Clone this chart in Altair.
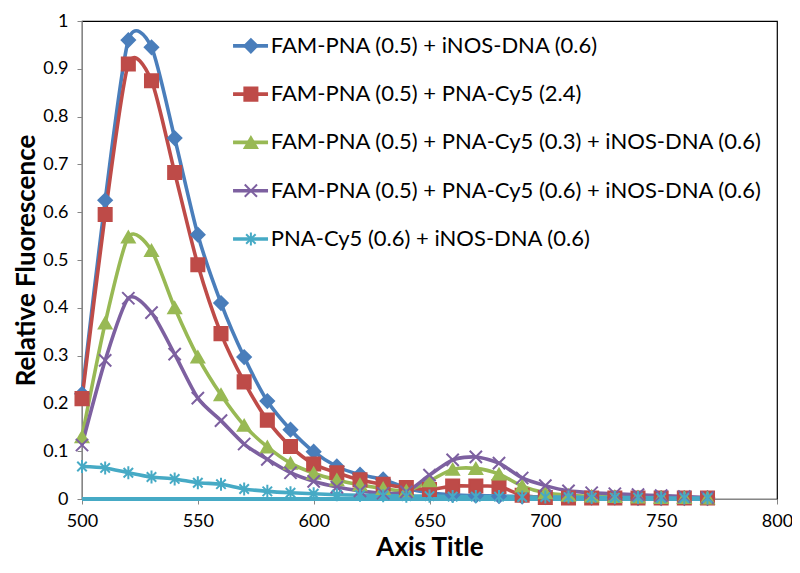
import altair as alt
import pandas as pd

# ---------------- data ----------------
wavelength = [500, 510, 520, 530, 540, 550, 560, 570, 580, 590, 600, 610, 620, 630,
              640, 650, 660, 670, 680, 690, 700, 710, 720, 730, 740, 750, 760, 770]

SERIES = [
    "FAM-PNA (0.5) + iNOS-DNA (0.6)",
    "FAM-PNA (0.5) + PNA-Cy5 (2.4)",
    "FAM-PNA (0.5) + PNA-Cy5 (0.3) + iNOS-DNA (0.6)",
    "FAM-PNA (0.5) + PNA-Cy5 (0.6) + iNOS-DNA (0.6)",
    "PNA-Cy5 (0.6) + iNOS-DNA (0.6)",
]

fam_inos = [0.220, 0.625, 0.960, 0.945, 0.755, 0.553, 0.410, 0.297, 0.205, 0.145,
            0.099, 0.068, 0.051, 0.041, 0.023, 0.013, 0.009, 0.007, 0.006, 0.005,
            0.004, 0.004, 0.003, 0.003, 0.002, 0.002, 0.002, 0.002]
fam_cy5_24 = [0.210, 0.595, 0.910, 0.875, 0.683, 0.490, 0.346, 0.245, 0.165, 0.110,
              0.073, 0.055, 0.040, 0.031, 0.024, 0.020, 0.027, 0.027, 0.026, 0.008,
              0.003, 0.002, 0.002, 0.002, 0.002, 0.002, 0.002, 0.002]
fam_cy5_03_inos = [0.130, 0.368, 0.548, 0.520, 0.400, 0.297, 0.218, 0.154, 0.109, 0.075,
                   0.054, 0.040, 0.030, 0.022, 0.017, 0.038, 0.062, 0.064, 0.052, 0.027,
                   0.013, 0.008, 0.006, 0.005, 0.004, 0.003, 0.003, 0.002]
fam_cy5_06_inos = [0.113, 0.290, 0.420, 0.390, 0.303, 0.211, 0.164, 0.115, 0.083, 0.055,
                   0.037, 0.025, 0.017, 0.012, 0.015, 0.050, 0.082, 0.088, 0.075, 0.044,
                   0.028, 0.017, 0.013, 0.011, 0.009, 0.007, 0.005, 0.003]
cy5_inos = [0.068, 0.065, 0.055, 0.046, 0.042, 0.034, 0.031, 0.021, 0.016, 0.013,
            0.011, 0.009, 0.008, 0.007, 0.006, 0.006, 0.005, 0.005, 0.005, 0.004,
            0.004, 0.004, 0.003, 0.003, 0.003, 0.002, 0.002, 0.002]
baseline = [0, 0, 0, 0, 0, 0, 0, 0, 0, 0, 0, 0, 0, 0,
            0, 0, 0, 0, 0, 0, 0, 0, 0, 0, 0, 0, 0, 0]

X_TICKS = [500, 550, 600, 650, 700, 750, 800]
Y_TICKS = [0, 0.1, 0.2, 0.3, 0.4, 0.5, 0.6, 0.7, 0.8, 0.9, 1]

COLORS = ["#4A7EBB", "#BE4B48", "#98B954", "#7D60A0", "#46AAC5"]
SHAPES = [
    "diamond",
    "square",
    "triangle-up",
    "M-1,-1L1,1M-1,1L1,-1",
    "M-0.8,-0.8L0.8,0.8M-0.8,0.8L0.8,-0.8M0,-1.1L0,1.1",
]
SIZES = [180, 140, 170, 150, 170]

# legend layout (data units)
LEG_Y0, LEG_DY = 0.948, 0.101
LEG_X0, LEG_X1, LEG_XM, LEG_XT = 565.2, 580.3, 572.9, 581.5

FONT = "Lato"

rows = []
for name, vals in zip(SERIES, [fam_inos, fam_cy5_24, fam_cy5_03_inos, fam_cy5_06_inos, cy5_inos]):
    for w, v in zip(wavelength, vals):
        rows.append({"wavelength": w, "value": v, "series": name})
df = pd.DataFrame(rows)
base_df = pd.DataFrame({"wavelength": wavelength, "value": baseline})
leg_df = pd.DataFrame({"series": SERIES, "row": list(range(len(SERIES)))})

xs = alt.Scale(domain=[500, 800], nice=False, zero=False)
ys = alt.Scale(domain=[0, 1], nice=False, zero=False)
cs = alt.Scale(domain=SERIES, range=COLORS)
ss = alt.Scale(domain=SERIES, range=SHAPES)
zs = alt.Scale(domain=SERIES, range=SIZES)

xa = alt.Axis(
    values=X_TICKS, title="Axis Title", grid=False, domainColor="#868686",
    tickColor="#868686", tickSize=5, labelPadding=8, labelFontSize=18,
    labelFont=FONT, labelColor="#000000", titleFont=FONT, titleFontSize=26,
    titleFontWeight="bold", titleColor="#000000", titlePadding=4, labelFlush=False)
ya = alt.Axis(
    values=Y_TICKS, format=".1~f", title="Relative Fluorescence", grid=False,
    domainColor="#868686", tickColor="#868686", tickSize=5, labelPadding=9,
    labelFontSize=18, labelFont=FONT, labelColor="#000000", titleFont=FONT,
    titleFontSize=26, titleFontWeight="bold", titleColor="#000000", titlePadding=3,
    labelFlush=False)


def X(f):
    return alt.X(f, scale=xs, axis=xa)


def Y(f):
    return alt.Y(f, scale=ys, axis=ya)


lines = alt.Chart(df).mark_line(interpolate="cardinal", tension=0.25, strokeWidth=3.6).encode(
    x=X("wavelength:Q"), y=Y("value:Q"),
    color=alt.Color("series:N", scale=cs, legend=None),
)

base_line = alt.Chart(base_df).mark_line(strokeWidth=4, color=COLORS[4]).encode(
    x=X("wavelength:Q"), y=Y("value:Q"),
)

points = alt.Chart(df).mark_point(filled=True, strokeWidth=2, opacity=1).encode(
    x=X("wavelength:Q"), y=Y("value:Q"),
    fill=alt.Fill("series:N", scale=cs, legend=None),
    stroke=alt.Stroke("series:N", scale=cs, legend=None),
    shape=alt.Shape("series:N", scale=ss, legend=None),
    size=alt.Size("series:N", scale=zs, legend=None),
)

leg_base = alt.Chart(leg_df).transform_calculate(
    ly=f"{LEG_Y0} - datum.row * {LEG_DY}",
    lx0=f"{LEG_X0}", lx1=f"{LEG_X1}", lxm=f"{LEG_XM}", lxt=f"{LEG_XT}",
)
leg_rule = leg_base.mark_rule(strokeWidth=3.6).encode(
    x=X("lx0:Q"), x2="lx1:Q", y=Y("ly:Q"),
    color=alt.Color("series:N", scale=cs, legend=None),
)
leg_pts = leg_base.mark_point(filled=True, strokeWidth=2, opacity=1).encode(
    x=X("lxm:Q"), y=Y("ly:Q"),
    fill=alt.Fill("series:N", scale=cs, legend=None),
    stroke=alt.Stroke("series:N", scale=cs, legend=None),
    shape=alt.Shape("series:N", scale=ss, legend=None),
    size=alt.Size("series:N", scale=zs, legend=None),
)
leg_txt = leg_base.mark_text(align="left", baseline="middle", font=FONT,
                             fontSize=22, color="#000000").encode(
    x=X("lxt:Q"), y=Y("ly:Q"),
    text="series:N",
)

chart = alt.layer(lines, base_line, points, leg_rule, leg_pts, leg_txt).properties(
    width=695, height=478,
    autosize=alt.AutoSizeParams(type="none"),
    padding={"left": 74, "top": 13, "right": 15, "bottom": 66},
    background="white",
).configure_view(stroke="#000000", strokeWidth=1.2)

chart.save("out.html", embed_options={"renderer": "svg", "actions": False})
